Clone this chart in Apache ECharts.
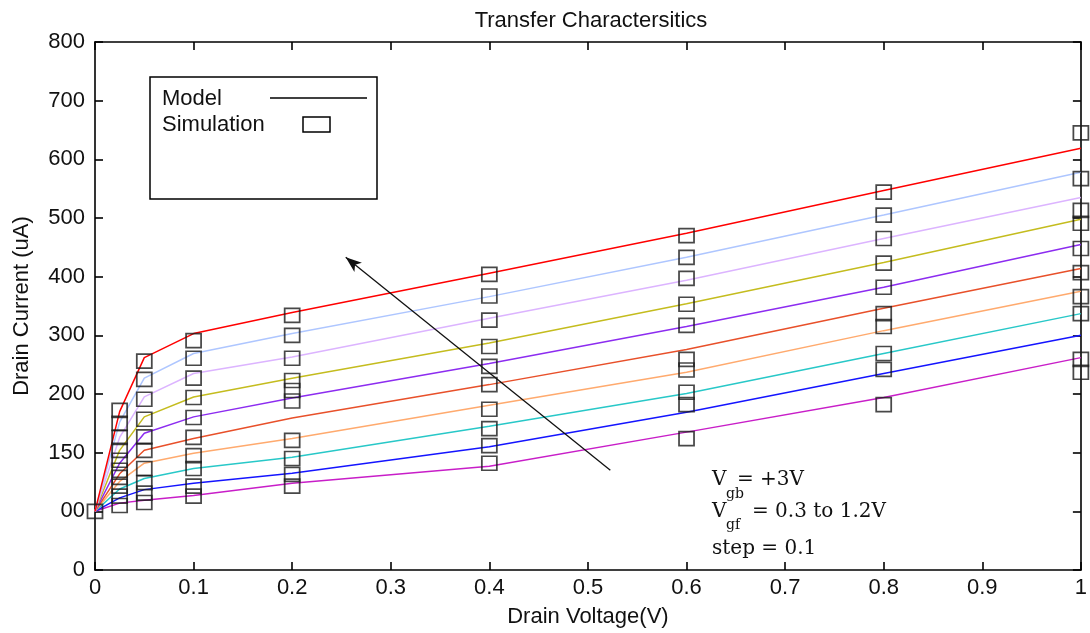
<!DOCTYPE html>
<html>
<head>
<meta charset="utf-8">
<title>Transfer Characteristics</title>
<script src="https://cdn.jsdelivr.net/npm/echarts@6/dist/echarts.min.js"></script>
<style>
  html, body { margin: 0; padding: 0; background: #fff; }
  #chart { width: 1090px; height: 633px; }
</style>
</head>
<body>
<div id="chart"></div>
<script>
// Drain voltage sample points (V)
const vdsPoints = [0, 0.025, 0.05, 0.1, 0.2, 0.4, 0.6, 0.8, 1.0];

// Front-gate voltage of each curve (V), Vgb = +3 V
const vgfSteps = ['0.3', '0.4', '0.5', '0.6', '0.7', '0.8', '0.9', '1.0', '1.1', '1.2'];

// Model drain current (uA) per Vgf, at vdsPoints
const modelVgf03 = [0, 14, 19, 27, 48, 77, 135, 194, 262];
const modelVgf04 = [0, 23, 37, 48, 65, 110, 169, 235, 300];
const modelVgf05 = [0, 38, 56, 73, 92, 145, 201, 269, 337];
const modelVgf06 = [0, 51, 82, 99, 124, 181, 237, 308, 375];
const modelVgf07 = [0, 64, 104, 124, 159, 216, 276, 346, 414];
const modelVgf08 = [0, 82, 133, 161, 193, 252, 315, 382, 455];
const modelVgf09 = [0, 104, 161, 195, 227, 287, 354, 424, 498];
const modelVgf10 = [0, 126, 195, 235, 263, 329, 394, 465, 535];
const modelVgf11 = [0, 152, 227, 269, 303, 366, 433, 505, 578];
const modelVgf12 = [0, 170, 262, 303, 339, 406, 474, 547, 619];

// Simulated drain current (uA) per Vgf, at vdsPoints
const simVgf03 = [0, 10, 15, 26, 43, 82, 124, 182, 237];
const simVgf04 = [0, 26, 31, 43, 63, 112, 182, 242, 259];
const simVgf05 = [0, 43, 49, 73, 90, 141, 203, 269, 337];
const simVgf06 = [0, 58, 73, 95, 121, 174, 241, 315, 366];
const simVgf07 = [0, 70, 104, 126, 188, 216, 259, 337, 407];
const simVgf08 = [0, 87, 127, 160, 206, 247, 317, 382, 448];
const simVgf09 = [0, 104, 157, 194, 223, 281, 353, 423, 491];
const simVgf10 = [0, 126, 191, 227, 261, 326, 397, 465, 513];
const simVgf11 = [0, 150, 225, 261, 300, 367, 433, 505, 567];
const simVgf12 = [0, 172, 256, 291, 334, 404, 470, 544, 645];

// Tick labels
const xTickLabels = ['0', '0.1', '0.2', '0.3', '0.4', '0.5', '0.6', '0.7', '0.8', '0.9', '1'];
const yTickLabels = ['0', '00', '150', '200', '300', '400', '500', '600', '700', '800'];

// Arrow showing increasing Vgf (Vds, Id)
const arrowFrom = [0.5227, 70];
const arrowTo = [0.2543, 433];

const modelCurves = [modelVgf03, modelVgf04, modelVgf05, modelVgf06, modelVgf07,
                     modelVgf08, modelVgf09, modelVgf10, modelVgf11, modelVgf12];
const simCurves = [simVgf03, simVgf04, simVgf05, simVgf06, simVgf07,
                   simVgf08, simVgf09, simVgf10, simVgf11, simVgf12];
const curveColors = ['#c81ec8', '#1414ff', '#28c8c8', '#ffaa6e', '#e8502a',
                     '#8c2cf0', '#c4bc1e', '#dcb4ff', '#aec6ff', '#ff0000'];

const FONT = '"Liberation Sans", Arial, sans-serif';
const SERIF = '"DejaVu Serif", "Liberation Serif", serif';

const series = [];
modelCurves.forEach((curve, i) => {
  series.push({
    name: 'Vgf = ' + vgfSteps[i] + ' V',
    type: 'line',
    data: vdsPoints.map((x, j) => [x, curve[j]]),
    symbol: 'none',
    clip: false,
    lineStyle: { color: curveColors[i], width: 1.5 },
    z: 2
  });
});

const simData = [];
simCurves.forEach(curve => {
  vdsPoints.forEach((x, j) => {
    if (j === 0 && simData.length) return; // shared origin point
    simData.push([x, curve[j]]);
  });
});

series.push({
  name: 'Simulation',
  type: 'scatter',
  data: simData,
  symbol: 'rect',
  symbolSize: [15, 14],
  clip: false,
  itemStyle: { color: 'rgba(0,0,0,0)', borderColor: '#1a1a1a', borderWidth: 1.7 },
  z: 3,
  markLine: {
    silent: true,
    symbol: ['none', 'arrow'],
    symbolSize: [9, 16],
    label: { show: false },
    lineStyle: { color: '#111', width: 1.3, type: 'solid' },
    data: [[{ coord: arrowFrom }, { coord: arrowTo }]]
  }
});

function axisStyle() {
  return {
    axisLine: { show: true, onZero: false, lineStyle: { color: '#000', width: 1.6 } },
    axisTick: { show: true, inside: true, length: 8, lineStyle: { color: '#000', width: 1.6 } },
    splitLine: { show: false }
  };
}

const option = {
  animation: false,
  backgroundColor: '#fff',
  title: {
    text: 'Transfer Charactersitics',
    left: 586,
    top: 5,
    textAlign: 'center',
    textStyle: { fontFamily: FONT, fontSize: 22, fontWeight: 'normal', color: '#111' }
  },
  grid: { left: 95, right: 4, top: 42, bottom: 63 },
  xAxis: [
    Object.assign({
      type: 'value', min: 0, max: 1, interval: 0.1,
      name: 'Drain Voltage(V)', nameLocation: 'middle', nameGap: 36,
      nameTextStyle: { fontFamily: FONT, fontSize: 22, color: '#111' },
      axisLabel: {
        margin: 7, fontFamily: FONT, fontSize: 22, color: '#111',
        formatter: v => xTickLabels[Math.round(v * 10)]
      }
    }, axisStyle()),
    Object.assign({
      type: 'value', min: 0, max: 1, interval: 0.1, position: 'top',
      axisLabel: { show: false }
    }, axisStyle())
  ],
  yAxis: [
    Object.assign({
      type: 'value', min: -100, max: 800, interval: 100,
      name: 'Drain Current (uA)', nameLocation: 'middle', nameGap: 62,
      nameTextStyle: { fontFamily: FONT, fontSize: 22, color: '#111' },
      axisLabel: {
        margin: 10, fontFamily: FONT, fontSize: 22, color: '#111',
        formatter: v => yTickLabels[Math.round((v + 100) / 100)]
      }
    }, axisStyle()),
    Object.assign({
      type: 'value', min: -100, max: 800, interval: 100, position: 'right',
      axisLabel: { show: false }
    }, axisStyle())
  ],
  series: series,
  graphic: [
    // legend box
    { type: 'rect', shape: { x: 150, y: 77, width: 227, height: 122 },
      style: { fill: '#fff', stroke: '#000', lineWidth: 1.5 }, z: 10 },
    { type: 'text', x: 162, y: 99, z: 11,
      style: { text: 'Model', font: '22px ' + FONT, fill: '#111', textVerticalAlign: 'middle' } },
    { type: 'line', shape: { x1: 270, y1: 98, x2: 367, y2: 98 },
      style: { stroke: '#000', lineWidth: 1.3 }, z: 11 },
    { type: 'text', x: 162, y: 125, z: 11,
      style: { text: 'Simulation', font: '22px ' + FONT, fill: '#111', textVerticalAlign: 'middle' } },
    { type: 'rect', shape: { x: 303, y: 117, width: 27, height: 15 },
      style: { fill: '#fff', stroke: '#000', lineWidth: 1.5 }, z: 11 },
    // bias conditions
    { type: 'text', x: 712, y: 480, z: 11,
      style: { text: 'V', font: '20px ' + SERIF, fill: '#111', textVerticalAlign: 'middle' } },
    { type: 'text', x: 726, y: 494, z: 11,
      style: { text: 'gb', font: '14px ' + SERIF, fill: '#111', textVerticalAlign: 'middle' } },
    { type: 'text', x: 737, y: 480, z: 11,
      style: { text: '= +3V', font: '20px ' + SERIF, fill: '#111', textVerticalAlign: 'middle' } },
    { type: 'text', x: 712, y: 512, z: 11,
      style: { text: 'V', font: '20px ' + SERIF, fill: '#111', textVerticalAlign: 'middle' } },
    { type: 'text', x: 726, y: 525, z: 11,
      style: { text: 'gf', font: '14px ' + SERIF, fill: '#111', textVerticalAlign: 'middle' } },
    { type: 'text', x: 752, y: 512, z: 11,
      style: { text: '= 0.3 to 1.2V', font: '20px ' + SERIF, fill: '#111', textVerticalAlign: 'middle' } },
    { type: 'text', x: 712, y: 549, z: 11,
      style: { text: 'step = 0.1', font: '20px ' + SERIF, fill: '#111', textVerticalAlign: 'middle' } }
  ]
};

const chart = echarts.init(document.getElementById('chart'), null, { renderer: 'canvas' });
chart.setOption(option);
</script>
</body>
</html>
